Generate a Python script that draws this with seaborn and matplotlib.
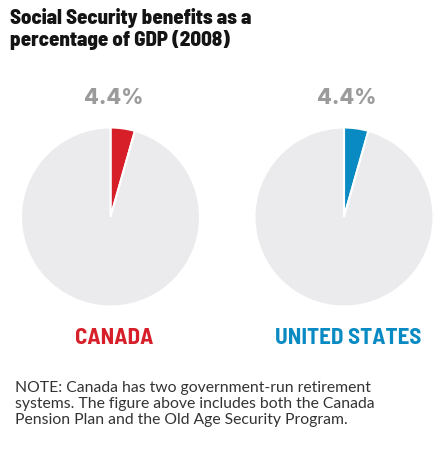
import matplotlib
matplotlib.use("Agg")
import matplotlib.pyplot as plt
import seaborn as sns

sns.set_theme(style="white")

countries = ["CANADA", "UNITED STATES"]
shares = [4.4, 4.4]
value_labels = ["4.4%", "4.4%"]
colors = ["#d71f2a", "#0a8ac2"]
rest_color = "#ebebed"
title = "Social Security benefits as a\npercentage of GDP (2008)"
note = ("NOTE: Canada has two government-run retirement\n"
        "systems. The figure above includes both the Canada\n"
        "Pension Plan and the Old Age Security Program.")

cond = ["Barlow Semi Condensed", "DejaVu Sans"]
plain = ["Lato", "DejaVu Sans"]
boldf = ["Inter", "DejaVu Sans"]

W, H = 447, 477
fig = plt.figure(figsize=(W / 100, H / 100), dpi=100)
fig.patch.set_facecolor("white")

centers = [(110.5, 218), (344, 218)]
r = 89.5
for i, (cx, cy) in enumerate(centers):
    ax = fig.add_axes([(cx - r) / W, (H - cy - r) / H, 2 * r / W, 2 * r / H])
    ax.pie([shares[i], 100 - shares[i]], colors=[colors[i], rest_color],
           startangle=90, counterclock=False,
           wedgeprops=dict(edgecolor="white", linewidth=1.5))
    ax.set_xlim(-1.0, 1.0)
    ax.set_ylim(-1.0, 1.0)
    ax.set_aspect("equal")
    ax.axis("off")
    fig.text((cx + 3) / W, 1 - 98 / H, value_labels[i], ha="center", va="center",
             fontsize=15.5, fontweight=800, color="#9b9b9b", family=boldf)
    fig.text((cx + 4) / W, 1 - 338 / H, countries[i], ha="center", va="center",
             fontsize=16.5, fontweight="bold", color=colors[i], family=cond)

fig.text(10 / W, 1 - 8 / H, title, ha="left", va="top", fontsize=15,
         fontweight=800, color="#141414", family=cond, linespacing=1.1)
fig.text(15 / W, 1 - 381 / H, note, ha="left", va="top", fontsize=11.3,
         color="#333333", family=plain, linespacing=1.2)

fig.savefig("out.png", dpi=100, facecolor="white")
